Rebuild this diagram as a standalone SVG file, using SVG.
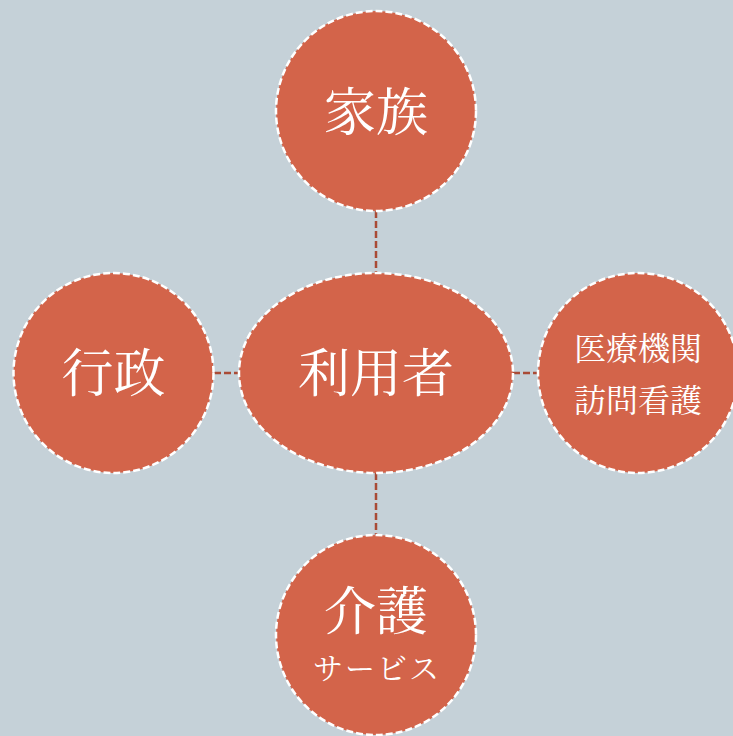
<svg xmlns="http://www.w3.org/2000/svg" width="733" height="736" viewBox="0 0 733 736">
<style>
.node{fill:#D3644A;stroke:#FFFFFF;stroke-width:2.5;stroke-dasharray:7 3}
.conn{stroke:#A94B36;stroke-width:2.5;stroke-dasharray:7 3;fill:none}
.t{fill:#FFFFFF;font-family:"Noto Serif CJK JP","Noto Sans CJK JP","Liberation Serif",serif;text-anchor:middle;dominant-baseline:central}
.big{font-size:52px}
.small{font-size:32px}
.kana{font-size:30px;letter-spacing:2px}
</style>
<rect width="733" height="736" fill="#C5D1D8"/>
<g id="connectors">
<line class="conn" x1="376" y1="211" x2="376" y2="273"/>
<line class="conn" x1="376" y1="473" x2="376" y2="535"/>
<line class="conn" x1="214" y1="373" x2="239" y2="373"/>
<line class="conn" x1="513" y1="373" x2="538" y2="373"/>
</g>
<g id="family">
<circle class="node" cx="376" cy="111" r="100"/>
<text class="t big" x="376" y="108">家族</text>
</g>
<g id="user">
<ellipse class="node" cx="376" cy="373" rx="137" ry="100"/>
<text class="t big" x="376" y="369">利用者</text>
</g>
<g id="gov">
<circle class="node" cx="113.5" cy="373" r="100"/>
<text class="t big" x="113.5" y="369">行政</text>
</g>
<g id="medical">
<circle class="node" cx="638" cy="373" r="100"/>
<text class="t small" x="638" y="346">医療機関</text>
<text class="t small" x="638" y="398">訪問看護</text>
</g>
<g id="care">
<circle class="node" cx="376" cy="635" r="100"/>
<text class="t big" x="376" y="607">介護</text>
<text class="t kana" x="377" y="666">サービス</text>
</g>
</svg>
